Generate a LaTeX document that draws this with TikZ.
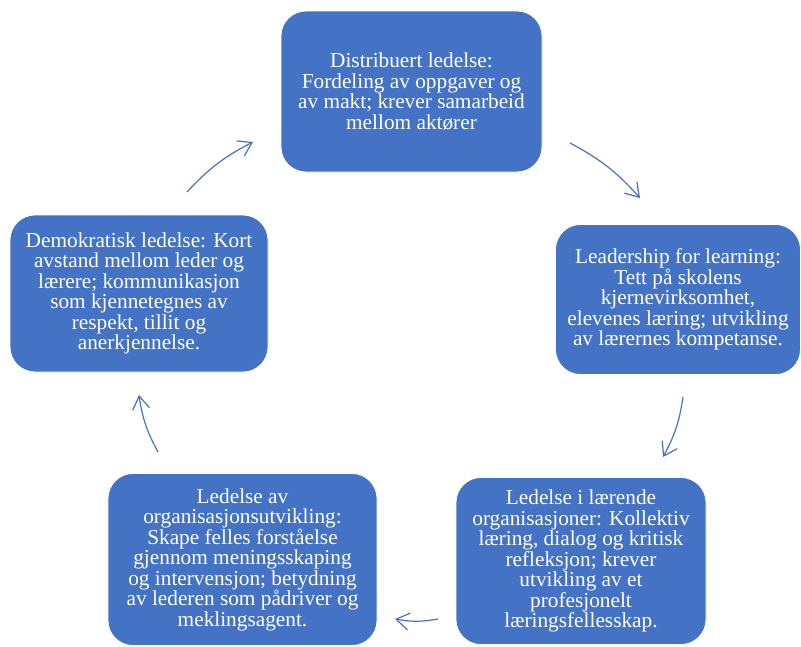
\documentclass[tikz,border=0pt]{standalone}
\usepackage{fontspec}
\setmainfont{Liberation Serif}
\usetikzlibrary{arrows.meta}
\definecolor{boxblue}{HTML}{4472C4}
\tikzset{
  box/.style={draw=white, line width=0.8pt, fill=boxblue, rounded corners=25pt, text=white, align=center, inner sep=0pt,
    font={\fontsize{21.3}{20.5}\selectfont}},
  cyc/.style={draw=boxblue, line width=1.2pt, -{Straight Barb[length=13pt,width=17pt]}, bend left=10}
}
\begin{document}
\begin{tikzpicture}[x=1pt,y=-1pt]
\useasboundingbox (0,0) rectangle (801,646);
\node[box, minimum width=261pt, minimum height=161pt] (b1) at (411.5,91.5)
  {Distribuert ledelse:\\Fordeling av oppgaver og\\av makt; krever samarbeid\\mellom aktører};
\node[box, minimum width=245pt, minimum height=150pt] (b2) at (678,299.5)
  {Leadership for learning:\\Tett på skolens\\kjernevirksomhet,\\elevenes læring; utvikling\\av lærernes kompetanse.};
\node[box, minimum width=250pt, minimum height=167pt] (b3) at (581,561)
  {Ledelse i lærende\\organisasjoner: Kollektiv\\læring, dialog og kritisk\\refleksjon; krever\\utvikling av et\\profesjonelt\\læringsfellesskap.};
\node[box, minimum width=269pt, minimum height=172pt] (b4) at (242.5,559.5)
  {Ledelse av\\organisasjonsutvikling:\\Skape felles forståelse\\gjennom meningsskaping\\og intervensjon; betydning\\av lederen som pådriver og\\meklingsagent.};
\node[box, minimum width=258pt, minimum height=157pt] (b5) at (139,293.5)
  {Demokratisk ledelse: Kort\\avstand mellom leder og\\lærere; kommunikasjon\\som kjennetegnes av\\respekt, tillit og\\anerkjennelse.};
\coordinate (s1) at (187,192); \coordinate (e1) at (253,142);
\coordinate (s2) at (570,143); \coordinate (e2) at (640,198);
\coordinate (s3) at (683,397); \coordinate (e3) at (663,457);
\coordinate (s4) at (438,619); \coordinate (e4) at (395,619);
\coordinate (s5) at (158,452); \coordinate (e5) at (139,395);
\draw[cyc] (s1) to (e1);
\draw[cyc] (s2) to (e2);
\draw[cyc] (s3) to (e3);
\draw[cyc] (s4) to (e4);
\draw[cyc] (s5) to (e5);
\end{tikzpicture}
\end{document}
